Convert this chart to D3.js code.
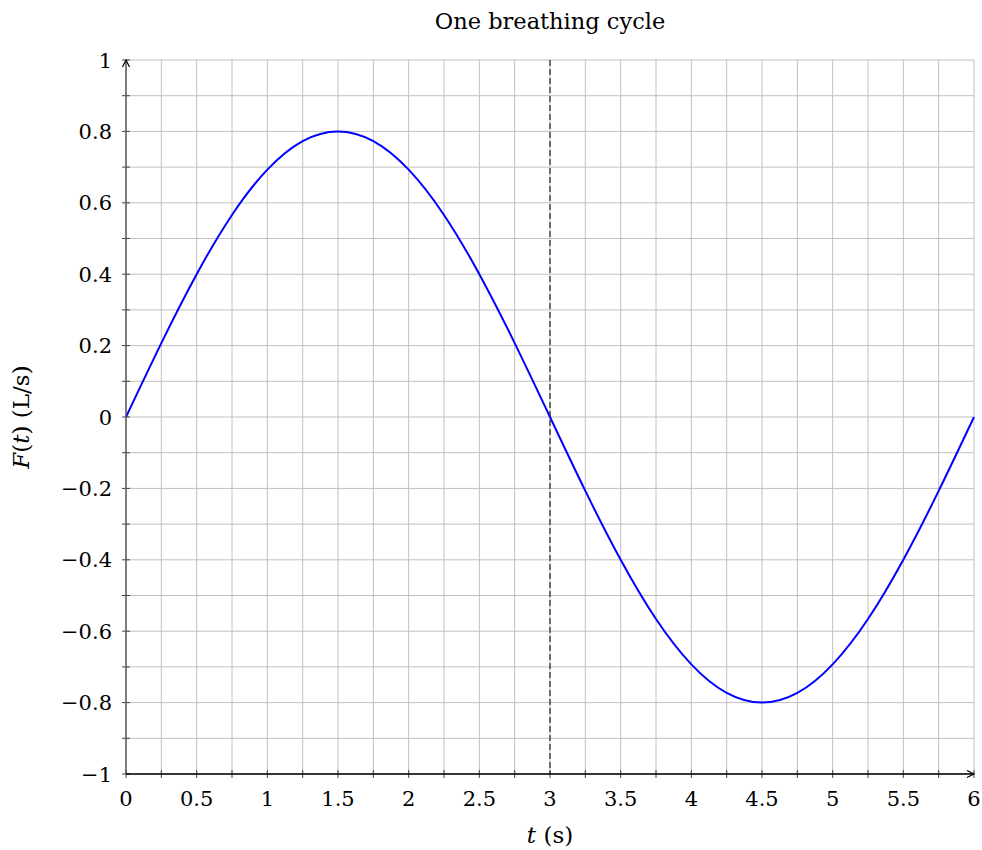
<!DOCTYPE html>
<html><head><meta charset="utf-8">
<script src="https://cdn.jsdelivr.net/npm/d3@7"></script>
<style>body{margin:0;background:#fff}svg{display:block}text{font-family:"DejaVu Serif","Liberation Serif",serif;fill:#000}</style>
</head><body><svg id="c" width="982" height="850"></svg>
<script>
const times = [0,0.25,0.5,0.75,1,1.25,1.5,1.75,2,2.25,2.5,2.75,3,3.25,3.5,3.75,4,4.25,4.5,4.75,5,5.25,5.5,5.75,6];
const flow  = [0,0.207,0.4,0.566,0.693,0.773,0.8,0.773,0.693,0.566,0.4,0.207,0,-0.207,-0.4,-0.566,-0.693,-0.773,-0.8,-0.773,-0.693,-0.566,-0.4,-0.207,0];
const xTicks = [0,0.5,1,1.5,2,2.5,3,3.5,4,4.5,5,5.5,6];
const yTicks = [-1,-0.8,-0.6,-0.4,-0.2,0,0.2,0.4,0.6,0.8,1];
const xMinor = d3.range(0,6.001,0.25);
const yMinor = d3.range(-1,1.001,0.1);
const markerT = 3;

const svg = d3.select("#c");
const L=126,R=974,T=60,B=774;
const x = d3.scaleLinear().domain([0,6]).range([L,R]);
const y = d3.scaleLinear().domain([-1,1]).range([B,T]);
const fmt = d => d<0 ? "\u2212"+Math.abs(d) : String(d);
const FS = 21;

// grid
const g = svg.append("g");
g.selectAll("line.vx").data(xMinor).join("line").attr("x1",d=>x(d)).attr("x2",d=>x(d)).attr("y1",T).attr("y2",B).attr("stroke","#c0c0c0").attr("stroke-width",1);
g.selectAll("line.hy").data(yMinor).join("line").attr("y1",d=>y(d)).attr("y2",d=>y(d)).attr("x1",L).attr("x2",R).attr("stroke","#c0c0c0").attr("stroke-width",1);

// dashed marker
svg.append("line").attr("x1",x(markerT)).attr("x2",x(markerT)).attr("y1",T).attr("y2",B).attr("stroke","#333").attr("stroke-width",1.3).attr("stroke-dasharray","6,3");

// ticks
svg.append("g").selectAll("line").data(xMinor).join("line").attr("x1",d=>x(d)).attr("x2",d=>x(d)).attr("y1",B-4).attr("y2",B+4).attr("stroke","#444");
svg.append("g").selectAll("line").data(yMinor).join("line").attr("y1",d=>y(d)).attr("y2",d=>y(d)).attr("x1",L-4).attr("x2",L+4).attr("stroke","#444");

// curve
const line = d3.line().x((d,i)=>x(times[i])).y(d=>y(d)).curve(d3.curveNatural);
svg.append("path").attr("d",line(flow)).attr("fill","none").attr("stroke","#0000ff").attr("stroke-width",2);

// axes
svg.append("line").attr("x1",L).attr("x2",L).attr("y1",B).attr("y2",T+1).attr("stroke","#555").attr("stroke-width",1.4);
svg.append("line").attr("x1",L).attr("x2",R-1).attr("y1",B).attr("y2",B).attr("stroke","#000").attr("stroke-width",1.4);
svg.append("path").attr("d",`M${L-3.5},${T+7} L${L},${T} L${L+3.5},${T+7}`).attr("fill","none").attr("stroke","#000").attr("stroke-width",1.2);
svg.append("path").attr("d",`M${R-7},${B-3.5} L${R},${B} L${R-7},${B+3.5}`).attr("fill","none").attr("stroke","#000").attr("stroke-width",1.2);

// labels
svg.append("g").selectAll("text").data(xTicks).join("text").attr("x",d=>x(d)).attr("y",B+32).attr("text-anchor","middle").attr("font-size",FS).text(fmt);
svg.append("g").selectAll("text").data(yTicks).join("text").attr("x",L-14).attr("y",d=>y(d)+7.5).attr("text-anchor","end").attr("font-size",FS).text(fmt);

svg.append("text").attr("x",(L+R)/2).attr("y",29).attr("text-anchor","middle").attr("font-size",22.5).text("One breathing cycle");
const xl = svg.append("text").attr("x",(L+R)/2).attr("y",843).attr("text-anchor","middle").attr("font-size",23);
xl.append("tspan").attr("font-style","italic").text("t");
xl.append("tspan").text(" (s)");
const yl = svg.append("text").attr("transform",`translate(29,${(T+B)/2}) rotate(-90)`).attr("text-anchor","middle").attr("font-size",23);
yl.append("tspan").attr("font-style","italic").text("F");
yl.append("tspan").text("(");
yl.append("tspan").attr("font-style","italic").text("t");
yl.append("tspan").text(") (L/s)");
</script></body></html>
